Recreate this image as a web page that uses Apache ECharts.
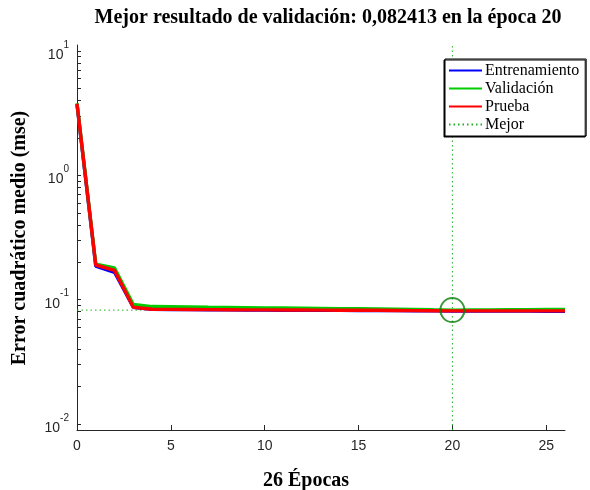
<!DOCTYPE html>
<html>
<head>
<meta charset="utf-8">
<script src="https://cdn.jsdelivr.net/npm/echarts@6/dist/echarts.min.js"></script>
<style>html,body{margin:0;padding:0;background:#fff}#c{width:590px;height:490px}</style>
</head>
<body>
<div id="c"></div>
<script>
// Epochs (x)
const epochs = [0,1,2,3,4,5,6,7,8,9,10,11,12,13,14,15,16,17,18,19,20,21,22,23,24,25,26];
// Series values (mse)
const train = [3.72,0.186,0.166,0.0868,0.0836,0.0833,0.0831,0.0829,0.0827,0.0826,0.0824,0.0823,0.0822,0.0821,0.0820,0.0819,0.0818,0.0816,0.0814,0.0812,0.0811,0.0810,0.0810,0.0809,0.0809,0.0808,0.0808];
const valid = [3.80,0.193,0.180,0.0915,0.0880,0.0876,0.0872,0.0868,0.0865,0.0862,0.0859,0.0856,0.0853,0.0850,0.0847,0.0845,0.0842,0.0838,0.0834,0.0829,0.082413,0.0826,0.0828,0.0830,0.0832,0.0834,0.0836];
const test  = [3.76,0.190,0.172,0.0870,0.0838,0.0835,0.0833,0.0831,0.0830,0.0828,0.0827,0.0826,0.0825,0.0824,0.0823,0.0822,0.0821,0.0819,0.0817,0.0815,0.0813,0.0813,0.0812,0.0812,0.0812,0.0812,0.0813];
// Best
const bestEpoch = 20;
const bestValue = 0.082413;
// Axis ranges and ticks
const xMin = 0, xMax = 26, xInterval = 5;
const yMin = 0.00895, yMax = 11.17;
const yMajorTicks = [0.01, 0.1, 1, 10];
const yExponents = ['-2', '-1', '0', '1'];
const yMinorTicks = [0.01,0.02,0.03,0.04,0.05,0.06,0.07,0.08,0.09,0.1,0.2,0.3,0.4,0.5,0.6,0.7,0.8,0.9,1,2,3,4,5,6,7,8,9,10];
// Texts
const titleText = 'Mejor resultado de validación: 0,082413 en la época 20';
const xName = '26 Épocas';
const yName = 'Error cuadrático medio (mse)';
const names = ['Entrenamiento','Validación','Prueba','Mejor'];

const pair = (ys) => epochs.map((e,i) => [e, ys[i]]);
const axisColor = '#262626';
const serif = '"Liberation Serif", "Times New Roman", serif';
const sans = '"Liberation Sans", Arial, sans-serif';

const chart = echarts.init(document.getElementById('c'), null, {renderer:'canvas'});
chart.setOption({
  animation: false,
  backgroundColor: '#fff',
  grid: {left: 77, right: 25, top: 45, bottom: 60, containLabel: false},
  xAxis: {
    type: 'value', min: xMin, max: xMax, interval: xInterval,
    axisLine: {show: true, onZero: false, lineStyle: {color: axisColor, width: 1}},
    axisTick: {show: true, inside: true, length: 5, lineStyle: {color: axisColor}},
    axisLabel: {color: axisColor, fontFamily: sans, fontSize: 14, margin: 9, showMaxLabel: false},
    splitLine: {show: false}
  },
  yAxis: {
    type: 'log', logBase: 10, min: yMin, max: yMax,
    axisLine: {show: true, lineStyle: {color: axisColor, width: 1}},
    axisTick: {show: true, inside: true, length: 4, customValues: yMinorTicks, lineStyle: {color: axisColor}},
    axisLabel: {
      customValues: yMajorTicks, margin: 8, color: axisColor,
      formatter: (v) => {
        const lv = Math.log10(v);
        let idx = 0;
        yMajorTicks.forEach((t, i) => { if (Math.abs(Math.log10(t) - lv) < Math.abs(Math.log10(yMajorTicks[idx]) - lv)) idx = i; });
        return '{b|10}{s|' + yExponents[idx] + '}';
      },
      rich: {
        b: {fontFamily: sans, fontSize: 14, color: axisColor, lineHeight: 22, verticalAlign: 'bottom'},
        s: {fontFamily: sans, fontSize: 10, color: axisColor, lineHeight: 22, verticalAlign: 'top'}
      }
    },
    splitLine: {show: false}
  },
  legend: {
    orient: 'vertical', left: 445, top: 59,
    data: names,
    itemWidth: 33, itemHeight: 10, itemGap: 1,
    padding: [3, 7, 3, 3],
    backgroundColor: '#fff', borderColor: '#000', borderWidth: 1, borderRadius: 0,
    shadowColor: '#000', shadowOffsetX: -1, shadowOffsetY: 1, shadowBlur: 0,
    itemStyle: {opacity: 0},
    textStyle: {fontFamily: serif, fontSize: 16, lineHeight: 17, color: '#000', padding: [0,0,0,-2]}
  },
  graphic: [
    {type: 'text', x: 328, y: 18, style: {text: titleText, font: 'bold 20px ' + serif, fill: '#000', align: 'center', verticalAlign: 'middle'}},
    {type: 'text', x: 306, y: 481, style: {text: xName, font: 'bold 20px ' + serif, fill: '#000', align: 'center', verticalAlign: 'middle'}},
    {type: 'text', x: 20, y: 238, rotation: Math.PI/2, style: {text: yName, font: 'bold 20px ' + serif, fill: '#000', align: 'center', verticalAlign: 'middle'}}
  ],
  series: [
    {name: 'Mejor', type: 'line', data: [[bestEpoch, yMin], [bestEpoch, yMax]], symbol: 'none', silent: true, z: 1,
      lineStyle: {color: '#22b022', width: 1, type: [1.5, 3]}, itemStyle: {color: '#22b022'}},
    {name: 'Mejor', type: 'line', data: [[xMin, bestValue], [xMax, bestValue]], symbol: 'none', silent: true, z: 1,
      lineStyle: {color: '#22b022', width: 1, type: [1.5, 3]}, itemStyle: {color: '#22b022'}},
    {name: 'Entrenamiento', type: 'line', data: pair(train), symbol: 'none', z: 2,
      lineStyle: {color: '#0000ff', width: 3.4}, itemStyle: {color: '#0000ff'}},
    {name: 'Validación', type: 'line', data: pair(valid), symbol: 'none', z: 3,
      lineStyle: {color: '#00cc00', width: 3.4}, itemStyle: {color: '#00cc00'}},
    {name: 'Prueba', type: 'line', data: pair(test), symbol: 'none', z: 4,
      lineStyle: {color: '#ff0000', width: 3.4}, itemStyle: {color: '#ff0000'}},
    {name: 'best', type: 'scatter', data: [[bestEpoch, bestValue]], symbol: 'circle', symbolSize: 24, z: 5,
      itemStyle: {color: 'rgba(0,0,0,0)', borderColor: '#0a800a', borderWidth: 2}}
  ]
});
</script>
</body>
</html>
